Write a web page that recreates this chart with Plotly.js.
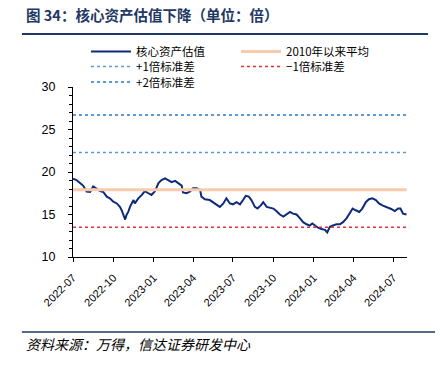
<!DOCTYPE html>
<html><head><meta charset="utf-8">
<script src="https://cdn.plot.ly/plotly-3.0.1.min.js"></script>
<style>body{margin:0;padding:0;background:#fff}#chart{width:440px;height:366px}</style>
</head><body><div id="chart"></div>
<script>
const dates = ["2022-07-01","2022-07-09","2022-07-17","2022-07-24","2022-08-01","2022-08-09","2022-08-16","2022-08-24","2022-09-01","2022-09-08","2022-09-16","2022-09-23","2022-10-01","2022-10-09","2022-10-16","2022-10-20","2022-10-24","2022-10-28","2022-10-31","2022-11-04","2022-11-08","2022-11-12","2022-11-16","2022-11-19","2022-11-27","2022-12-05","2022-12-12","2022-12-20","2022-12-27","2023-01-04","2023-01-12","2023-01-19","2023-01-27","2023-02-03","2023-02-11","2023-02-19","2023-02-26","2023-03-06","2023-03-09","2023-03-17","2023-03-25","2023-04-01","2023-04-09","2023-04-17","2023-04-20","2023-04-28","2023-05-09","2023-05-17","2023-05-25","2023-06-01","2023-06-09","2023-06-16","2023-06-24","2023-07-01","2023-07-09","2023-07-17","2023-07-24","2023-07-30","2023-08-06","2023-08-12","2023-08-20","2023-08-26","2023-09-03","2023-09-08","2023-09-16","2023-09-23","2023-10-01","2023-10-08","2023-10-16","2023-10-24","2023-10-31","2023-11-08","2023-11-15","2023-11-23","2023-12-01","2023-12-08","2023-12-16","2023-12-23","2023-12-29","2024-01-04","2024-01-11","2024-01-19","2024-01-27","2024-02-01","2024-02-07","2024-02-14","2024-02-22","2024-03-01","2024-03-08","2024-03-16","2024-03-22","2024-03-30","2024-04-06","2024-04-14","2024-04-21","2024-04-29","2024-05-06","2024-05-14","2024-05-22","2024-05-29","2024-06-07","2024-06-16","2024-06-26","2024-07-04","2024-07-12","2024-07-17","2024-07-23","2024-07-31"];
const valuation = [19.2,19.05,18.7,18.4,17.7,17.65,18.3,18.0,17.75,17.65,17.1,16.9,16.5,16.3,15.9,15.5,14.95,14.4,14.95,15.3,15.9,16.3,16.7,16.3,16.9,17.3,17.75,17.5,17.3,17.75,18.7,19.05,19.25,19.05,18.8,18.95,18.7,18.4,17.6,17.5,17.7,18.1,18.1,17.9,17.1,16.8,16.7,16.45,16.2,15.9,16.3,16.9,16.3,16.2,16.45,16.2,16.7,17.2,17.1,16.7,15.9,15.7,16.1,16.45,15.9,15.8,15.7,15.4,15.0,14.75,15.0,15.3,15.1,15.0,14.55,14.1,13.85,13.7,13.95,13.7,13.45,13.3,13.2,12.9,13.55,13.7,13.85,13.85,14.1,14.55,15.1,15.7,15.5,15.3,15.7,16.45,16.8,16.9,16.7,16.3,16.05,15.9,15.65,15.4,15.7,15.7,15.1,15.0];
const meanValue = 17.9;
const plus1Std = 22.3;
const minus1Std = 13.5;
const plus2Std = 26.7;
const seriesNames = ["核心资产估值","2010年以来平均","+1倍标准差","−1倍标准差","+2倍标准差"];
const yTicks = [10,15,20,25,30];
const xTicks = ["2022-07-01","2022-10-01","2023-01-01","2023-04-01","2023-07-01","2023-10-01","2024-01-01","2024-04-01","2024-07-01"];

const xs = [dates[0], dates[dates.length-1]];
const xRange = ["2022-07-01","2024-08-01"];
const font = "Liberation Sans, Arial, sans-serif";
const cjk = "Noto Sans CJK SC, sans-serif";
const traces = [
  {x:dates, y:valuation, name:seriesNames[0], mode:"lines", legend:"legend", line:{color:"#0E2A7A", width:2}},
  {x:xs, y:[meanValue,meanValue], name:seriesNames[1], mode:"lines", legend:"legend", line:{color:"#F8CBAD", width:3}},
  {x:xs, y:[plus1Std,plus1Std], name:seriesNames[2], mode:"lines", legend:"legend2", line:{color:"#5B9BD5", width:1.5, dash:"dot"}},
  {x:xs, y:[minus1Std,minus1Std], name:seriesNames[3], mode:"lines", legend:"legend2", line:{color:"#E0303A", width:1.5, dash:"dot"}},
  {x:xs, y:[plus2Std,plus2Std], name:seriesNames[4], mode:"lines", legend:"legend3", xaxis:"x2", yaxis:"y2", line:{color:"#5B9BD5", width:2, dash:"dot"}}
];
function leg(py){
  return {orientation:"h", x:(86-73)/334, y:(257-py)/170, xanchor:"left", yanchor:"middle",
          entrywidth:95, entrywidthmode:"pixels", itemwidth:40, tracegroupgap:0, itemgap:0,
          font:{family:cjk, size:11.5, color:"#000"}, bgcolor:"rgba(0,0,0,0)"};
}
const layout = {
  width:440, height:366,
  margin:{l:73, r:33, t:87, b:109},
  paper_bgcolor:"#fff", plot_bgcolor:"#fff",
  showlegend:true,
  legend:leg(51.5), legend2:leg(66.5), legend3:leg(82),
  xaxis:{type:"date", range:xRange, showgrid:false, zeroline:false,
         showline:true, linecolor:"#000", linewidth:1, ticks:"outside", ticklen:4, tickcolor:"#000",
         tickvals:xTicks, showticklabels:false},
  xaxis2:{type:"date", range:xRange, overlaying:"x", anchor:"y", side:"bottom", showgrid:false, zeroline:false,
         showline:false, ticks:"outside", ticklen:9, tickcolor:"rgba(0,0,0,0)",
         tickvals:xTicks, tickformat:"%Y-%m", tickangle:-45,
         tickfont:{family:font, size:11, color:"#000"}},
  yaxis:{range:[10,30], tickvals:yTicks, showgrid:false, zeroline:false,
         showline:true, linecolor:"#000", linewidth:1, ticks:"outside", ticklen:4, tickcolor:"#000",
         showticklabels:false,
         minor:{dtick:1, ticks:"outside", ticklen:3, tickcolor:"#000", showgrid:false}},
  yaxis2:{range:[10,30], tickvals:yTicks, overlaying:"y", anchor:"x", side:"left", showgrid:false, zeroline:false,
         showline:false, ticks:"outside", ticklen:14, tickcolor:"rgba(0,0,0,0)",
         tickfont:{family:font, size:12.5, color:"#000"}},
  shapes:[
    {type:"line", xref:"paper", yref:"paper", x0:-0.153, x1:1.063, y0:(257-34)/170, y1:(257-34)/170, line:{color:"#1F3864", width:2}},
    {type:"line", xref:"paper", yref:"paper", x0:-0.153, x1:1.084, y0:(257-332)/170, y1:(257-332)/170, line:{color:"#1F3864", width:1.5}}
  ],
  annotations:[
    {text:"<b>图 34：核心资产估值下降（单位：倍）</b>", xref:"paper", yref:"paper", x:-0.147, y:(257-15)/170, xanchor:"left", yanchor:"middle", showarrow:false, font:{family:cjk, size:14.5, color:"#1F3864"}},
    {text:"<i>资料来源：万得，信达证券研发中心</i>", xref:"paper", yref:"paper", x:-0.147, y:(257-344)/170, xanchor:"left", yanchor:"middle", showarrow:false, font:{family:cjk, size:14, color:"#000"}}
  ]
};
Plotly.newPlot("chart", traces, layout, {staticPlot:true});
</script></body></html>
